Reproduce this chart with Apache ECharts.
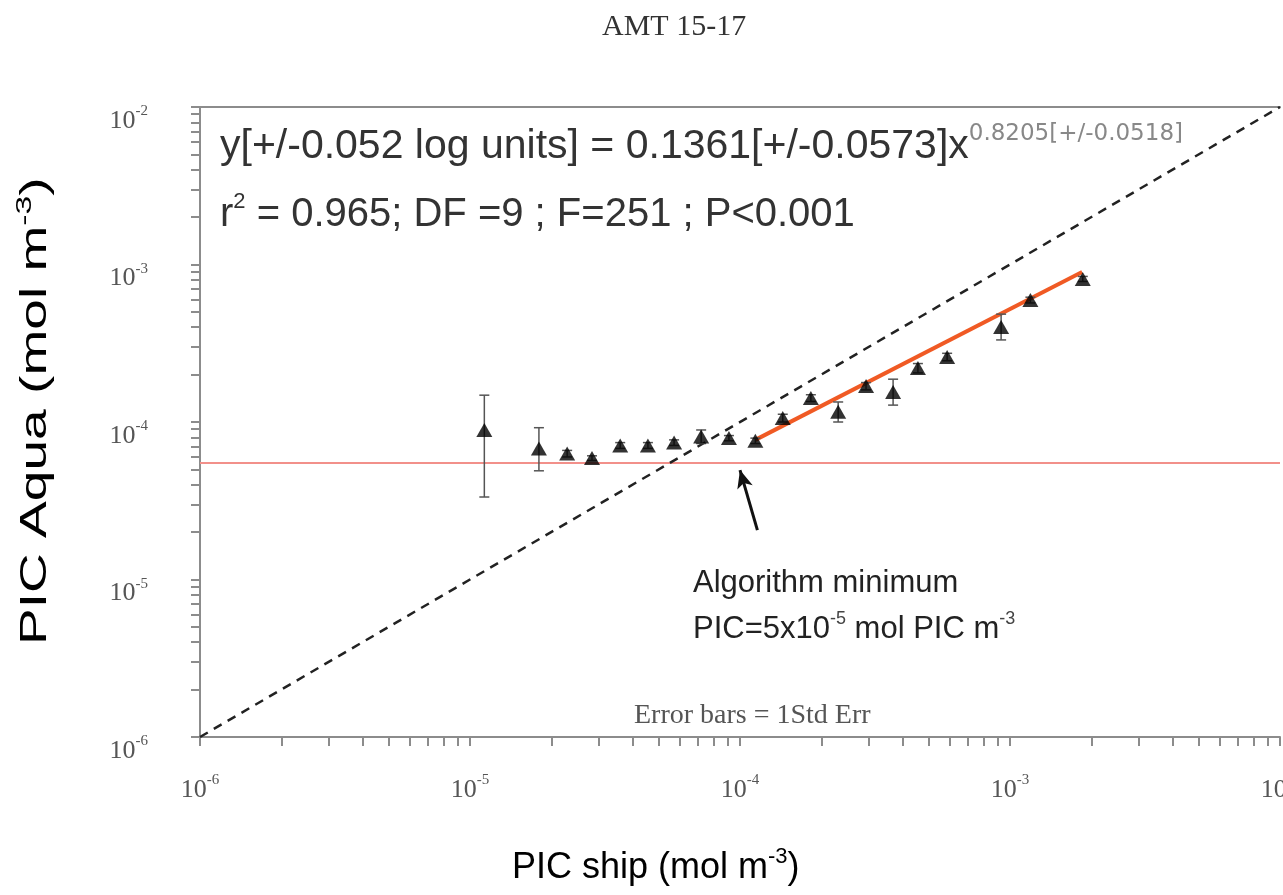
<!DOCTYPE html>
<html>
<head>
<meta charset="utf-8">
<script src="https://cdn.jsdelivr.net/npm/echarts@6/dist/echarts.min.js"></script>
<style>
  html, body { margin: 0; padding: 0; background: #fff; }
  #chart { width: 1283px; height: 895px; }
</style>
</head>
<body>
<div id="chart"></div>
<script>
// PIC ship vs PIC Aqua, AMT 15-17 (log-log)
const shipX = [1.13e-5, 1.80e-5, 2.29e-5, 2.83e-5, 3.60e-5, 4.56e-5, 5.70e-5, 7.18e-5, 9.10e-5, 1.14e-4,
  1.44e-4, 1.83e-4, 2.31e-4, 2.93e-4, 3.69e-4, 4.56e-4, 5.85e-4, 9.27e-4, 1.19e-3, 1.86e-3]
const aquaY = [8.9e-5, 6.8e-5, 6.3e-5, 5.9e-5, 7.1e-5, 7.1e-5, 7.4e-5, 8.1e-5, 7.9e-5, 7.6e-5,
  1.06e-4, 1.42e-4, 1.16e-4, 1.69e-4, 1.55e-4, 2.2e-4, 2.59e-4, 4.01e-4, 5.96e-4, 8.09e-4]
const errLow = [3.34e-5, 4.9e-5, 6.0e-5, 5.7e-5, 6.8e-5, 6.8e-5, 7.1e-5, 7.3e-5, 7.6e-5, 7.3e-5,
  1.0e-4, 1.35e-4, 1.0e-4, 1.6e-4, 1.28e-4, 2.05e-4, 2.45e-4, 3.32e-4, 5.7e-4, 7.8e-4]
const errHigh = [1.48e-4, 9.2e-5, 6.6e-5, 6.1e-5, 7.4e-5, 7.4e-5, 7.7e-5, 8.9e-5, 8.2e-5, 7.9e-5,
  1.12e-4, 1.49e-4, 1.34e-4, 1.78e-4, 1.87e-4, 2.35e-4, 2.73e-4, 4.84e-4, 6.2e-4, 8.4e-4]

// 1:1 line and fitted power law (end points)
const oneToOne = [[1e-6, 1e-6], [1e-2, 1e-2]]
const fitLine = [[1.14e-4, 7.7e-5], [1.85e-3, 8.95e-4]]
const algMin = 5.5e-5
const arrowLine = [[1.16e-4, 2.06e-5], [1.0e-4, 4.95e-5]]

const decades = [1e-6, 1e-5, 1e-4, 1e-3, 1e-2]
const minorSteps = [1, 2, 3, 4, 5, 6, 7, 8, 9]

const allTicks = []
decades.forEach((d, i) => {
  if (i === decades.length - 1) { allTicks.push(d); return }
  minorSteps.forEach((m) => allTicks.push(+(d * m).toPrecision(3)))
})

const serif = '"Liberation Serif", "Times New Roman", serif'
const sans = '"Liberation Sans", Arial, sans-serif'

const powLabel = (v) => '{b|10}{s|' + Math.round(Math.log10(v)) + '}'
const tickRich = {
  b: { fontFamily: serif, fontSize: 26, color: '#555', lineHeight: 34 },
  s: { fontFamily: serif, fontSize: 15, color: '#555', lineHeight: 16, verticalAlign: 'top' },
}

const logAxis = (extra) => Object.assign({
  type: 'log',
  logBase: 10,
  min: 1e-6,
  max: 1e-2,
  splitLine: { show: false },
  axisLine: { show: true, lineStyle: { color: '#8c8c8c', width: 2 } },
  axisTick: { show: true, customValues: allTicks, length: 9, lineStyle: { color: '#8c8c8c', width: 2 } },
  axisLabel: { customValues: decades, formatter: powLabel, rich: tickRich },
}, extra)

const chart = echarts.init(document.getElementById('chart'))

chart.setOption({
  animation: false,
  backgroundColor: '#fff',
  grid: { left: 200, right: 3, top: 107, bottom: 158, outerBoundsMode: 'none', containLabel: false },
  xAxis: [
    logAxis({ position: 'bottom', axisLabel: { customValues: decades, formatter: powLabel, rich: tickRich, margin: 36 } }),
    logAxis({ position: 'top', axisTick: { show: false }, axisLabel: { show: false } }),
  ],
  yAxis: [
    logAxis({ position: 'left', axisLabel: { customValues: decades, formatter: powLabel, rich: tickRich, margin: 52, padding: [28, 0, 0, 0] } }),
  ],
  series: [
    {
      type: 'line',
      data: [[1e-6, algMin], [1e-2, algMin]],
      symbol: 'none',
      lineStyle: { color: '#f2908a', width: 2 },
      z: 1,
    },
    {
      type: 'line',
      data: oneToOne,
      symbol: 'none',
      lineStyle: { color: '#222', width: 2.5, type: [9, 7] },
      z: 2,
    },
    {
      type: 'line',
      data: fitLine,
      symbol: 'none',
      lineStyle: { color: '#f05a24', width: 4 },
      z: 3,
      markLine: {
        silent: true,
        symbol: ['none', 'arrow'],
        symbolSize: [12, 18],
        label: { show: false },
        lineStyle: { color: '#111', width: 3, type: 'solid' },
        data: [[{ coord: arrowLine[0] }, { coord: arrowLine[1] }]],
      },
    },
    {
      type: 'custom',
      z: 4,
      data: shipX.map((x, i) => [x, errLow[i], errHigh[i]]),
      renderItem: (params, api) => {
        const lo = api.coord([api.value(0), api.value(1)])
        const hi = api.coord([api.value(0), api.value(2)])
        const w = 5
        const style = { stroke: '#555', lineWidth: 1.5 }
        return {
          type: 'group',
          children: [
            { type: 'line', shape: { x1: lo[0], y1: lo[1], x2: hi[0], y2: hi[1] }, style },
            { type: 'line', shape: { x1: lo[0] - w, y1: lo[1], x2: lo[0] + w, y2: lo[1] }, style },
            { type: 'line', shape: { x1: hi[0] - w, y1: hi[1], x2: hi[0] + w, y2: hi[1] }, style },
          ],
        }
      },
    },
    {
      type: 'scatter',
      z: 5,
      data: shipX.map((x, i) => [x, aquaY[i]]),
      symbol: 'triangle',
      symbolSize: [16, 14],
      itemStyle: { color: '#000' },
    },
  ],
  graphic: [
    {
      type: 'text', left: 602, top: 12,
      style: { text: 'AMT 15-17', font: '30px ' + serif, fill: '#333' },
    },
    {
      type: 'text', left: 220, top: 123,
      style: {
        text: '{m|y[+/-0.052 log units] = 0.1361[+/-0.0573]x}{s|0.8205[+/-0.0518]}',
        rich: {
          m: { fontFamily: sans, fontSize: 41, fill: '#333', lineHeight: 48 },
          s: { fontFamily: '"DejaVu Sans", sans-serif', fontSize: 23, fill: '#888', lineHeight: 24, verticalAlign: 'top' },
        },
      },
    },
    {
      type: 'text', left: 220, top: 191,
      style: {
        text: '{m|r}{s|2}{m| = 0.965; DF =9 ; F=251 ; P<0.001}',
        rich: {
          m: { fontFamily: sans, fontSize: 40, fill: '#333', lineHeight: 48 },
          s: { fontFamily: sans, fontSize: 22, fill: '#333', lineHeight: 22, verticalAlign: 'top' },
        },
      },
    },
    {
      type: 'text', left: 693, top: 568,
      style: { text: 'Algorithm minimum', font: '31px ' + sans, fill: '#222' },
    },
    {
      type: 'text', left: 693, top: 610,
      style: {
        text: '{m|PIC=5x10}{s|-5}{m| mol PIC m}{s|-3}',
        rich: {
          m: { fontFamily: sans, fontSize: 31, fill: '#222', lineHeight: 38 },
          s: { fontFamily: sans, fontSize: 18, fill: '#444', lineHeight: 18, verticalAlign: 'top' },
        },
      },
    },
    {
      type: 'text', left: 634, top: 702,
      style: { text: 'Error bars = 1Std Err', font: '28px ' + serif, fill: '#555' },
    },
    {
      type: 'text', left: 512, top: 846,
      style: {
        text: '{m|PIC ship (mol m}{s|-3}{m|)}',
        rich: {
          m: { fontFamily: sans, fontSize: 36, fill: '#000', lineHeight: 44 },
          s: { fontFamily: sans, fontSize: 22, fill: '#000', lineHeight: 22, verticalAlign: 'top' },
        },
      },
    },
    {
      type: 'text', x: 14, y: 645, rotation: Math.PI / 2, scaleX: 1.53,
      style: {
        text: '{m|PIC Aqua (mol m}{s|-3}{m|)}',
        rich: {
          m: { fontFamily: sans, fontSize: 36, fill: '#000', lineHeight: 44 },
          s: { fontFamily: sans, fontSize: 22, fill: '#000', lineHeight: 22, verticalAlign: 'top' },
        },
      },
    },
  ],
})
</script>
</body>
</html>
